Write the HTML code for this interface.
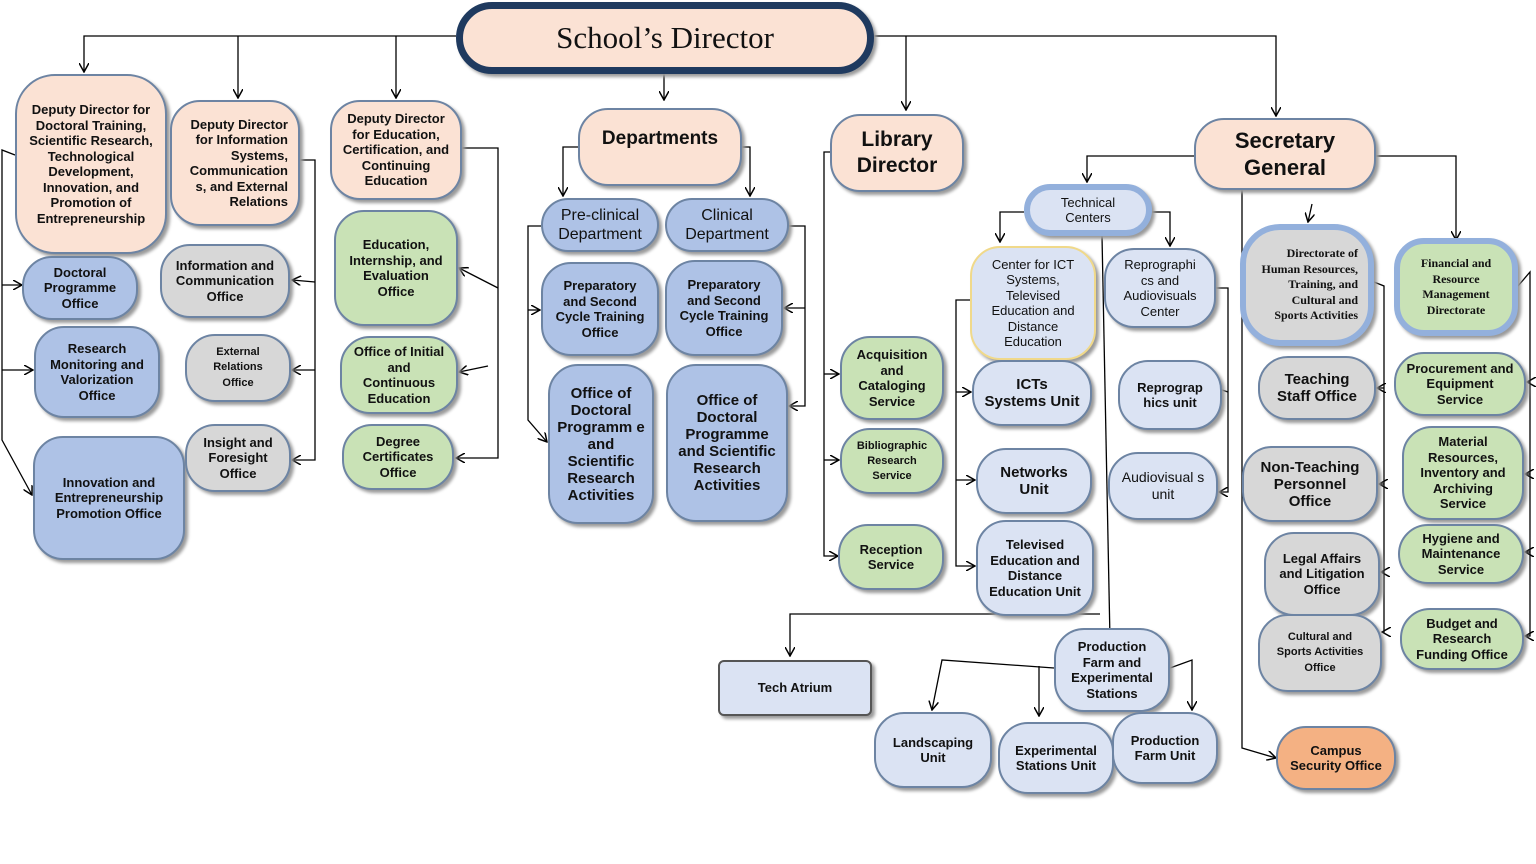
<!DOCTYPE html>
<html><head><meta charset="utf-8"><style>
body{margin:0;width:1536px;height:864px;background:#fff;position:relative;overflow:hidden;font-family:"Liberation Sans",Arial,sans-serif}
.b{position:absolute;box-sizing:border-box;border:2px solid #6d84a3;border-radius:30px;box-shadow:3px 3px 3px #9a9a9a;display:flex;align-items:center;justify-content:center;text-align:center;font-weight:bold;font-size:13px;line-height:15.5px;color:#111;padding:2px 10px}
.p{background:#fbe2d4}.u{background:#aec2e6}.l{background:#dbe3f3}.g{background:#d7d7d7}.gr{background:#c9e2b6}.o{background:#f4b183}
.n{font-weight:normal}
.s{font-family:"Liberation Serif",serif}
.t{border:6px solid #93b0dc}
svg{position:absolute;left:0;top:0}
</style></head><body>
<svg width="1536" height="864" viewBox="0 0 1536 864">
<defs><marker id="a" markerWidth="10" markerHeight="10" refX="9" refY="5" orient="auto" markerUnits="userSpaceOnUse"><path d="M0,0 L9,5 L0,10" fill="none" stroke="#000" stroke-width="1.5"/></marker></defs>
<g stroke="#000" stroke-width="1.3" fill="none">
<path d="M456,36 H84 V72" marker-end="url(#a)"/>
<path d="M238,36 V98" marker-end="url(#a)"/>
<path d="M396,36 V98" marker-end="url(#a)"/>
<path d="M664,72 V100" marker-end="url(#a)"/>
<path d="M874,36 H1276 V116" marker-end="url(#a)"/>
<path d="M906,36 V110" marker-end="url(#a)"/>
<path d="M578,147 H563 V196" marker-end="url(#a)"/>
<path d="M742,147 H750 V196" marker-end="url(#a)"/>
<path d="M15,155 L2,150 V440 L32,495" marker-end="url(#a)"/>
<path d="M2,285 H22" marker-end="url(#a)"/>
<path d="M2,370 H33" marker-end="url(#a)"/>
<path d="M300,160 H315 V460 H292" marker-end="url(#a)"/>
<path d="M315,282 L292,280" marker-end="url(#a)"/>
<path d="M315,370 H292" marker-end="url(#a)"/>
<path d="M462,148 H498 V458 H456" marker-end="url(#a)"/>
<path d="M498,288 L459,268" marker-end="url(#a)"/>
<path d="M488,366 L459,372" marker-end="url(#a)"/>
<path d="M541,226 H528 V420 L547,442" marker-end="url(#a)"/>
<path d="M528,310 H540" marker-end="url(#a)"/>
<path d="M789,226 H805 V406 H789" marker-end="url(#a)"/>
<path d="M805,308 H784" marker-end="url(#a)"/>
<path d="M830,152 H824 V556 H838" marker-end="url(#a)"/>
<path d="M824,374 H839" marker-end="url(#a)"/>
<path d="M824,460 H839" marker-end="url(#a)"/>
<path d="M1194,156 H1087 V182" marker-end="url(#a)"/>
<path d="M1024,212 H1000 V242" marker-end="url(#a)"/>
<path d="M1152,212 H1170 V246" marker-end="url(#a)"/>
<path d="M1102,236 L1110,640" marker-end="url(#a)"/>
<path d="M970,300 H956 V566 H975" marker-end="url(#a)"/>
<path d="M956,392 H971" marker-end="url(#a)"/>
<path d="M956,480 H975" marker-end="url(#a)"/>
<path d="M1216,288 H1228 V492 H1219" marker-end="url(#a)"/>
<path d="M1228,392 L1210,386" marker-end="url(#a)"/>
<path d="M1100,614 H790 V656" marker-end="url(#a)"/>
<path d="M1054,668 L942,660 L932,710" marker-end="url(#a)"/>
<path d="M1039,666 V716" marker-end="url(#a)"/>
<path d="M1170,668 L1192,660 V710" marker-end="url(#a)"/>
<path d="M1242,190 V748 L1276,758" marker-end="url(#a)"/>
<path d="M1312,204 L1308,222" marker-end="url(#a)"/>
<path d="M1376,156 H1456 V240" marker-end="url(#a)"/>
<path d="M1374,282 L1384,286 V632 H1383" />
<path d="M1384,388 H1377" marker-end="url(#a)"/>
<path d="M1384,484 H1379" marker-end="url(#a)"/>
<path d="M1384,572 H1381" marker-end="url(#a)"/>
<path d="M1384,632 H1382" marker-end="url(#a)"/>
<path d="M1518,286 L1530,272 V636 H1525" marker-end="url(#a)"/>
<path d="M1530,382 H1527" marker-end="url(#a)"/>
<path d="M1530,474 H1525" marker-end="url(#a)"/>
<path d="M1530,552 H1525" marker-end="url(#a)"/>
</g></svg>

<div class="b p s n" style="left:456px;top:2px;width:418px;height:72px;border:7px solid #1f3a5f;border-radius:36px;font-size:31px">School’s Director</div>

<div class="b p" style="left:15px;top:74px;width:152px;height:180px;border-radius:40px">Deputy Director for Doctoral Training, Scientific Research, Technological Development, Innovation, and Promotion of Entrepreneurship</div>
<div class="b p" style="left:170px;top:100px;width:130px;height:126px;text-align:right">Deputy Director for Information Systems, Communication s, and External Relations</div>
<div class="b p" style="left:330px;top:100px;width:132px;height:100px">Deputy Director for Education, Certification, and Continuing Education</div>

<div class="b u" style="left:22px;top:256px;width:116px;height:64px">Doctoral Programme Office</div>
<div class="b u" style="left:34px;top:326px;width:126px;height:92px">Research Monitoring and Valorization Office</div>
<div class="b u" style="left:33px;top:436px;width:152px;height:124px">Innovation and Entrepreneurship Promotion Office</div>
<div class="b g" style="left:160px;top:244px;width:130px;height:74px">Information and Communication Office</div>
<div class="b g" style="left:185px;top:334px;width:106px;height:68px;font-size:11px">External Relations Office</div>
<div class="b g" style="left:185px;top:424px;width:106px;height:68px">Insight and Foresight Office</div>
<div class="b gr" style="left:334px;top:210px;width:124px;height:116px">Education, Internship, and Evaluation Office</div>
<div class="b gr" style="left:340px;top:336px;width:118px;height:78px">Office of Initial and Continuous Education</div>
<div class="b gr" style="left:342px;top:424px;width:112px;height:66px">Degree Certificates Office</div>

<div class="b p" style="left:578px;top:108px;width:164px;height:78px;font-size:19px;line-height:22px;align-items:flex-start;padding-top:18px">Departments</div>
<div class="b u n" style="left:541px;top:198px;width:118px;height:54px;font-size:16px;line-height:19px">Pre-clinical Department</div>
<div class="b u n" style="left:665px;top:198px;width:124px;height:54px;font-size:16px;line-height:19px">Clinical Department</div>
<div class="b u" style="left:541px;top:262px;width:118px;height:94px">Preparatory and Second Cycle Training Office</div>
<div class="b u" style="left:665px;top:260px;width:118px;height:96px">Preparatory and Second Cycle Training Office</div>
<div class="b u" style="left:548px;top:364px;width:106px;height:160px;font-size:15px;line-height:17px;padding:2px 6px">Office of Doctoral Programm e and Scientific Research Activities</div>
<div class="b u" style="left:666px;top:364px;width:122px;height:158px;font-size:15px;line-height:17px;padding:2px 6px">Office of Doctoral Programme and Scientific Research Activities</div>

<div class="b p" style="left:830px;top:114px;width:134px;height:78px;font-size:21px;line-height:26px">Library Director</div>
<div class="b gr" style="left:840px;top:336px;width:104px;height:84px">Acquisition and Cataloging Service</div>
<div class="b gr" style="left:840px;top:428px;width:104px;height:66px;font-size:11px;line-height:15px">Bibliographic Research Service</div>
<div class="b gr" style="left:838px;top:524px;width:106px;height:66px">Reception Service</div>

<div class="b p" style="left:1194px;top:118px;width:182px;height:72px;font-size:22px;line-height:27px">Secretary General</div>
<div class="b l t n" style="left:1024px;top:184px;width:128px;height:52px;font-size:13px">Technical Centers</div>
<div class="b l n" style="left:970px;top:246px;width:126px;height:114px;border-color:#f0d98a;font-size:13px">Center for ICT Systems, Televised Education and Distance Education</div>
<div class="b l n" style="left:1104px;top:248px;width:112px;height:80px">Reprographi cs and Audiovisuals Center</div>
<div class="b l" style="left:972px;top:360px;width:120px;height:66px;font-size:15px;line-height:17px">ICTs Systems Unit</div>
<div class="b l" style="left:976px;top:448px;width:116px;height:66px;font-size:15px;line-height:17px">Networks Unit</div>
<div class="b l" style="left:976px;top:520px;width:118px;height:96px">Televised Education and Distance Education Unit</div>
<div class="b l" style="left:1118px;top:360px;width:104px;height:70px">Reprograp hics unit</div>
<div class="b l n" style="left:1108px;top:452px;width:110px;height:68px;font-size:14px;line-height:17px">Audiovisual s unit</div>
<div class="b l" style="left:718px;top:660px;width:154px;height:56px;border-radius:6px;border-color:#555">Tech Atrium</div>
<div class="b l" style="left:1054px;top:628px;width:116px;height:84px">Production Farm and Experimental Stations</div>
<div class="b l" style="left:874px;top:712px;width:118px;height:76px">Landscaping Unit</div>
<div class="b l" style="left:998px;top:722px;width:116px;height:72px">Experimental Stations Unit</div>
<div class="b l" style="left:1112px;top:712px;width:106px;height:72px">Production Farm Unit</div>

<div class="b g t s" style="left:1240px;top:224px;width:134px;height:122px;text-align:right;font-size:12px;border-radius:40px">Directorate of Human Resources, Training, and Cultural and Sports Activities</div>
<div class="b gr t s" style="left:1394px;top:238px;width:124px;height:98px;font-size:12px">Financial and Resource Management Directorate</div>
<div class="b g" style="left:1258px;top:356px;width:118px;height:64px;font-size:15px;line-height:17px">Teaching Staff Office</div>
<div class="b g" style="left:1242px;top:446px;width:136px;height:76px;font-size:15px;line-height:17px">Non-Teaching Personnel Office</div>
<div class="b g" style="left:1264px;top:532px;width:116px;height:84px">Legal Affairs and Litigation Office</div>
<div class="b g" style="left:1258px;top:614px;width:124px;height:78px;font-size:11px">Cultural and Sports Activities Office</div>
<div class="b o" style="left:1276px;top:726px;width:120px;height:64px">Campus Security Office</div>
<div class="b gr" style="left:1394px;top:352px;width:132px;height:64px">Procurement and Equipment Service</div>
<div class="b gr" style="left:1402px;top:426px;width:122px;height:94px">Material Resources, Inventory and Archiving Service</div>
<div class="b gr" style="left:1398px;top:524px;width:126px;height:60px">Hygiene and Maintenance Service</div>
<div class="b gr" style="left:1400px;top:608px;width:124px;height:62px">Budget and Research Funding Office</div>
</body></html>
